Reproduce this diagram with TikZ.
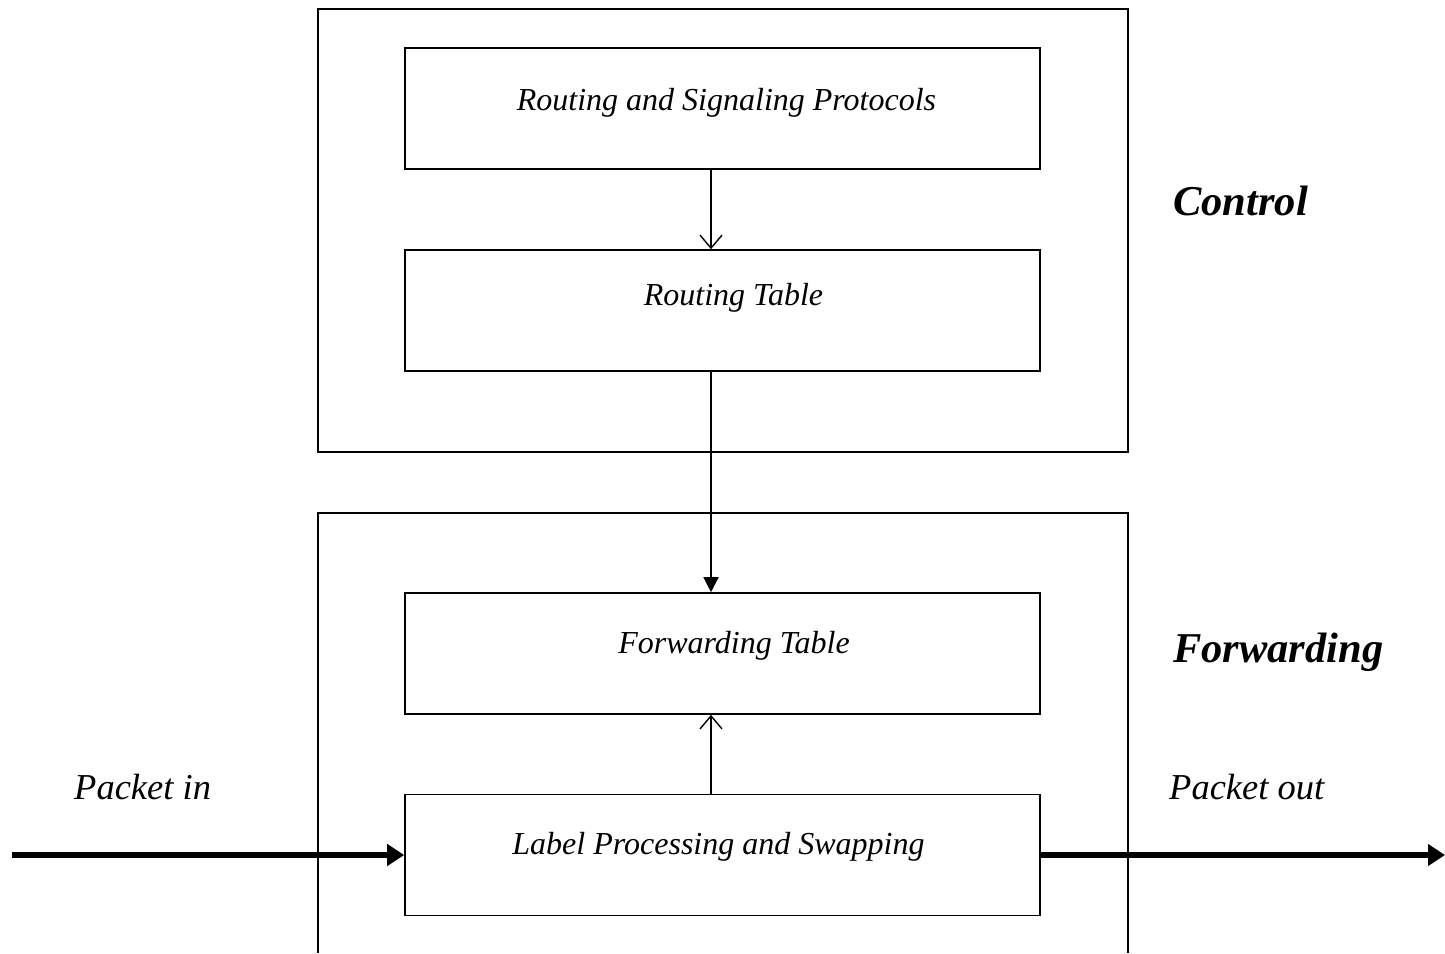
\documentclass[tikz,border=0pt]{standalone}
\usepackage{fontspec}
\setmainfont{Liberation Serif}
\usetikzlibrary{arrows.meta}
\begin{document}
\begin{tikzpicture}[x=1pt,y=-1pt,
  box/.style={draw,line width=1.6pt,minimum width=635pt,minimum height=121pt,inner sep=0pt},
  boxtext/.style={font=\fontsize{32}{36}\selectfont\itshape,anchor=base,inner sep=0pt},
  thin/.style={line width=1.4pt},
  openarr/.style={thin,-{Straight Barb[length=13pt,width=22pt,line width=1.4pt]}},
  fillarr/.style={thin,-{Triangle[length=15pt,width=15pt]}},
  thickarr/.style={line width=5.5pt,-{Triangle[length=17pt,width=21pt]}},
  side/.style={font=\fontsize{36.5}{40}\selectfont\itshape,anchor=base west,inner sep=0pt},
  big/.style={font=\fontsize{42.5}{46}\selectfont\bfseries\itshape,anchor=base west,inner sep=0pt}]
\useasboundingbox (0,0) rectangle (1445,953);
\draw[line width=1.6pt] (318,9) rectangle (1128,452);
\draw[line width=1.6pt] (318,953) |- (1128,513) -- (1128,953);
\node[box] (rsp) at (722.5,108.5) {};
\node[box] (rt) at (722.5,310.5) {};
\node[box] (ft) at (722.5,653.5) {};
\node[box] (lp) at (722.5,855) {};
\node[boxtext] (rspt) at (726.5,110) {Routing and Signaling Protocols};
\node[boxtext] (rtt) at (733.5,305) {Routing Table};
\node[boxtext] (ftt) at (734,653) {Forwarding Table};
\node[boxtext] (lpt) at (718.5,854) {Label Processing and Swapping};
\draw[openarr] (rsp.south -| 711,0) -- (rt.north -| 711,0);
\draw[fillarr] (rt.south -| 711,0) -- (ft.north -| 711,0);
\draw[openarr] (lp.north -| 711,0) -- (ft.south -| 711,0);
\coordinate (inL) at (12,855);
\coordinate (outR) at (1445,855);
\draw[thickarr] (inL) -- (lp.west);
\draw[thickarr] (lp.east) -- (outR);
\node[side] (pin) at (74,799) {Packet in};
\node[side] (pout) at (1169,799) {Packet out};
\node[big] (ctl) at (1173,215) {Control};
\node[big] (fwd) at (1173,662) {Forwarding};
\end{tikzpicture}
\end{document}
